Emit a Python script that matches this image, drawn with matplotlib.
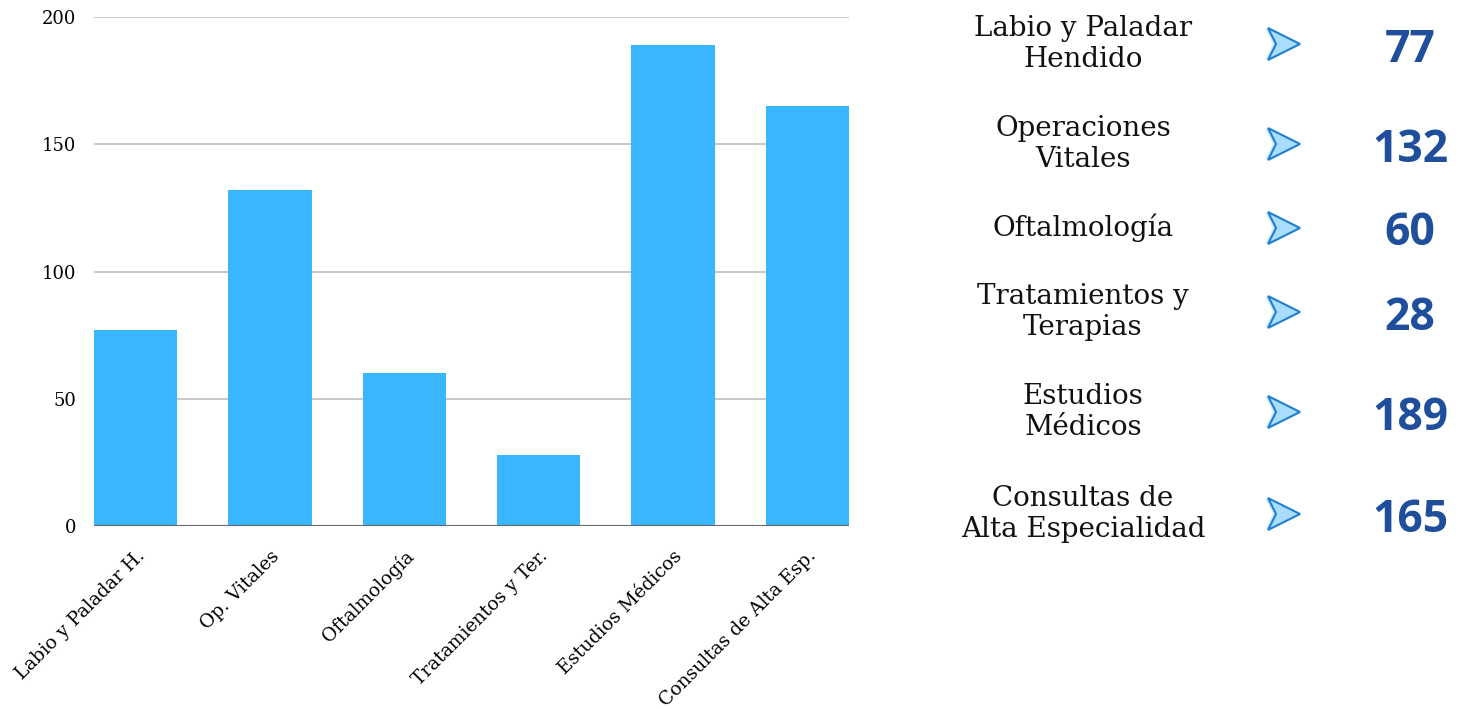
import matplotlib.pyplot as plt
from matplotlib.patches import Polygon

# datos
categorias = ['Labio y Paladar H.', 'Op. Vitales', 'Oftalmología',
              'Tratamientos y Ter.', 'Estudios Médicos', 'Consultas de Alta Esp.']
valores = [77, 132, 60, 28, 189, 165]
etiquetas_panel = ['Labio y Paladar\nHendido', 'Operaciones\nVitales', 'Oftalmología',
                   'Tratamientos y\nTerapias', 'Estudios\nMédicos',
                   'Consultas de\nAlta Especialidad']
y_ticks = [0, 50, 100, 150, 200]

serif = ['DejaVu Serif', 'Liberation Serif']

fig = plt.figure(figsize=(14.65, 7.09), dpi=100)
ax = fig.add_axes([0.0642, 0.2581, 0.5154, 0.7179])

x = range(len(categorias))
ax.bar(x, valores, width=0.62, color='#38b6ff', zorder=3)
ax.set_xlim(-0.31, len(categorias) - 1 + 0.31)
ax.set_ylim(0, 200)
ax.set_yticks(y_ticks)
ax.set_yticklabels([str(v) for v in y_ticks], family=serif, fontsize=13)
ax.grid(axis='y', color='#bdbdbd', linewidth=1.2, zorder=0)
ax.axhline(0, color='#666666', linewidth=1.5, zorder=4)
for s in ax.spines.values():
    s.set_visible(False)
ax.tick_params(axis='y', length=0, pad=13)
ax.tick_params(axis='x', length=0, pad=15)
ax.set_xticks(list(x))
ax.set_xticklabels(categorias, rotation=45, ha='right', rotation_mode='anchor',
                   family=serif, fontsize=13.5)

# panel derecho
filas_y = [44, 144, 228, 312, 412, 514]
H = 709.0
W = 1465.0
for etiqueta, valor, yp in zip(etiquetas_panel, valores, filas_y):
    yf = 1 - yp / H
    fig.text(1083 / W, yf, etiqueta, ha='center', va='center', family=serif,
             fontsize=20, linespacing=1.2, color='#111111')
    fig.text(1410 / W, 1 - (yp + 6) / H, str(valor), ha='center', va='center',
             family=['Open Sans', 'DejaVu Sans'], fontweight='bold',
             fontsize=32, color='#1f4e9c')
    # flecha
    x0, x1 = 1268 / W, 1300 / W
    dy = 16 / H
    xn = 1276 / W
    sombra = Polygon([(x0 - 3 / W, yf + dy), (x1 - 3 / W, yf), (x0 - 3 / W, yf - dy),
                      (xn - 3 / W, yf)], closed=True, transform=fig.transFigure,
                     facecolor='#cfeaff', edgecolor='none')
    flecha = Polygon([(x0, yf + dy), (x1, yf), (x0, yf - dy), (xn, yf)], closed=True,
                     transform=fig.transFigure, facecolor='#a9dcff',
                     edgecolor='#1f7fd0', linewidth=1.5)
    fig.patches.append(sombra)
    fig.patches.append(flecha)

fig.savefig('out.png', dpi=100)
